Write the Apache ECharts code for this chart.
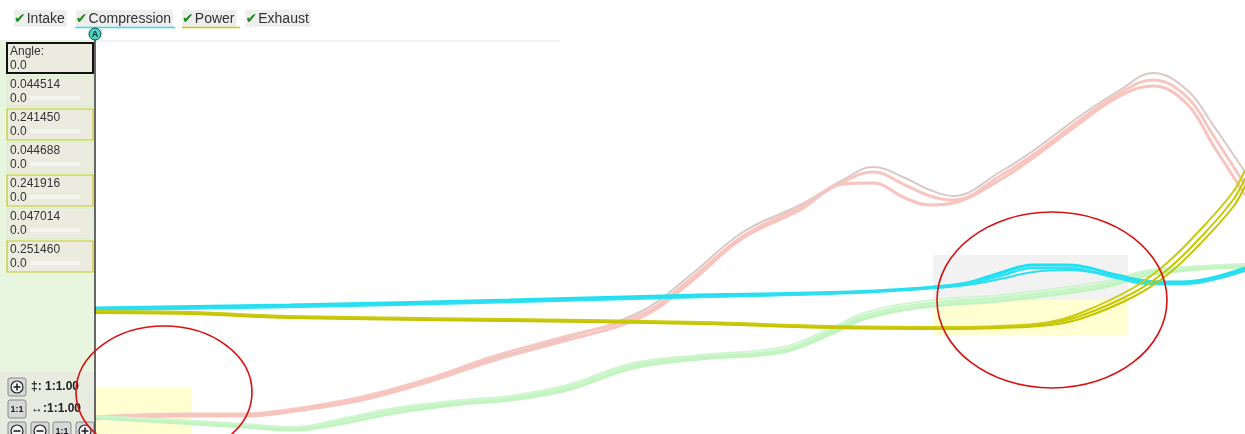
<!DOCTYPE html>
<html><head><meta charset="utf-8">
<script src="https://cdn.jsdelivr.net/npm/echarts@6/dist/echarts.min.js"></script>
<style>html,body{margin:0;padding:0;background:#fff}#c{width:1245px;height:434px}</style>
</head><body><div id="c"></div>
<script>
// ---- data (x = crank angle units, y = signal units) ----
const legendNames = ['Intake', 'Compression', 'Power', 'Exhaust'];
const panelValues = ['0.044514', '0.241450', '0.044688', '0.241916', '0.047014', '0.251460'];
const panelSub = '0.0';
const zoomV = '1:1.00', zoomH = '1:1.00';

const intakeX = [0, 90, 150, 200, 267, 333, 400, 465, 545, 592, 648, 705, 748, 778, 810, 835, 858, 905, 942, 985, 1025, 1058, 1092, 1118, 1150];
const intakeA = [16, 19, 19, 24, 36, 54, 76, 94, 122, 156, 202, 229, 254, 267, 256, 244, 238, 262, 286, 318, 344, 361, 344, 309, 262];
const intakeB = [17, 20, 20, 25, 37, 55, 78, 96, 119, 152, 198, 227, 252, 262, 249, 238, 234, 258, 282, 314, 341, 354, 337, 299, 249];
const intakeC = [15, 18, 18, 23, 34, 52, 74, 92, 116, 149, 196, 224, 250, 251, 236, 229, 231, 254, 279, 311, 338, 348, 330, 289, 239];

const exhaustX = [0, 100, 150, 200, 250, 300, 367, 415, 472, 538, 605, 688, 738, 772, 838, 905, 1005, 1055, 1105, 1150];
const exhaustA = [17, 12, 9, 6, 14, 24, 32, 36, 47, 69, 77, 84, 104, 119, 131, 136, 149, 162, 167, 169];
const exhaustB = [16, 10, 7, 4, 11, 21, 30, 34, 44, 66, 75, 82, 101, 116, 128, 133, 146, 159, 165, 167];
const exhaustC = [18, 13, 10, 7, 16, 26, 34, 38, 49, 71, 79, 87, 107, 122, 134, 139, 152, 164, 168, 170];

const compX = [0, 195, 415, 605, 755, 838, 872, 905, 938, 972, 1022, 1055, 1088, 1150];
const compA = [126, 129, 134, 139, 142, 147, 151, 161, 169, 169, 159, 152, 152, 166];
const compB = [124, 127, 132, 137, 141, 146, 150, 158, 166, 166, 156, 150, 150, 164];
const compC = [125, 128, 133, 138, 142, 146, 149, 155, 162, 164, 158, 153, 151, 163];

const powerX = [0, 95, 195, 415, 605, 738, 855, 905, 955, 988, 1038, 1072, 1105, 1138, 1150];
const powerA = [122, 121, 117, 114, 111, 107, 106, 107, 111, 119, 141, 164, 196, 234, 256];
const powerB = [121, 120, 116, 113, 110, 106, 105, 106, 109, 116, 137, 159, 190, 227, 248];
const powerC = [123, 122, 118, 115, 112, 108, 107, 108, 112, 122, 146, 171, 204, 242, 264];

// highlighted regions [x0, x1, y0, y1]
const hlYellowLeft = [0, 97, 0, 46];
const hlGreyRight = [838, 1033, 134, 179];
const hlYellowRight = [838, 1033, 99, 134];

// ---- chart ----
const FONT = '"Liberation Sans", Arial, sans-serif';
function mk(name, xs, ys, color, width, z) {
  return {
    type: 'line', name: name, data: xs.map((x, i) => [x, ys[i]]),
    smooth: 0.4, showSymbol: false, symbol: 'none',
    lineStyle: { color: color, width: width }, itemStyle: { color: color },
    z: z, silent: true
  };
}
const series = [
  mk('Intake', intakeX, intakeA, '#d8c8c8', 2, 2),
  mk('Intake', intakeX, intakeB, '#f7c6c0', 3, 2),
  mk('Intake', intakeX, intakeC, '#f9c3be', 3, 2),
  mk('Exhaust', exhaustX, exhaustA, '#c6f5c6', 3, 2),
  mk('Exhaust', exhaustX, exhaustB, '#c2f4c0', 3, 2),
  mk('Exhaust', exhaustX, exhaustC, '#d0f5d0', 2, 2),
  mk('Compression', compX, compA, '#1ee0f2', 3, 3),
  mk('Compression', compX, compB, '#28e4f4', 2.5, 3),
  mk('Compression', compX, compC, '#30dcee', 2, 3),
  mk('Power', powerX, powerA, '#c8c800', 2, 4),
  mk('Power', powerX, powerB, '#c4c400', 2, 4),
  mk('Power', powerX, powerC, '#caca10', 2, 4)
];
series[0].markArea = {
  silent: true,
  data: [
    [{ coord: [hlYellowLeft[0], hlYellowLeft[2]], itemStyle: { color: '#ffffd2' } }, { coord: [hlYellowLeft[1], hlYellowLeft[3]] }],
    [{ coord: [hlGreyRight[0], hlGreyRight[2]], itemStyle: { color: '#f2f2f2' } }, { coord: [hlGreyRight[1], hlGreyRight[3]] }],
    [{ coord: [hlYellowRight[0], hlYellowRight[2]], itemStyle: { color: '#ffffd2' } }, { coord: [hlYellowRight[1], hlYellowRight[3]] }]
  ]
};

const graphic = [];
// horizontal top rule
graphic.push({ type: 'line', shape: { x1: 96, y1: 41, x2: 560, y2: 41 }, style: { stroke: '#e6e6e6', lineWidth: 1 }, z: 50 });
// legend underlines
graphic.push({ type: 'line', shape: { x1: 75, y1: 27.5, x2: 175, y2: 27.5 }, style: { stroke: '#30e0f0', lineWidth: 1.5 }, z: 50 });
graphic.push({ type: 'line', shape: { x1: 182, y1: 27.5, x2: 240, y2: 27.5 }, style: { stroke: '#d0c800', lineWidth: 1.5 }, z: 50 });
// "A" marker
graphic.push({ type: 'circle', shape: { cx: 95, cy: 34, r: 6 }, style: { fill: '#48d4c4', stroke: '#0c4848', lineWidth: 1 }, z: 60 });
graphic.push({ type: 'text', style: { text: 'A', x: 95, y: 34.5, align: 'center', verticalAlign: 'middle', font: 'bold 9px ' + FONT, fill: '#103030' }, z: 61 });
// left panel
graphic.push({ type: 'rect', shape: { x: 0, y: 40, width: 94, height: 394 }, style: { fill: '#e8f6e0' }, z: 40 });
graphic.push({ type: 'rect', shape: { x: 7, y: 43, width: 86, height: 30 }, style: { fill: '#ebebe0', stroke: '#111', lineWidth: 2 }, z: 41 });
graphic.push({ type: 'text', style: { text: 'Angle:', x: 10, y: 52, verticalAlign: 'middle', font: '12px ' + FONT, fill: '#333' }, z: 42 });
graphic.push({ type: 'text', style: { text: panelSub, x: 10, y: 66, verticalAlign: 'middle', font: '12px ' + FONT, fill: '#333' }, z: 42 });
panelValues.forEach((v, i) => {
  const y0 = 76 + i * 33;
  const yellow = i % 2 === 1;
  graphic.push({ type: 'rect', shape: { x: 7, y: y0, width: 86, height: 31 }, style: { fill: '#ebebe0', stroke: yellow ? '#c8c820' : '#d6f0cc', lineWidth: 1.2 }, z: 41 });
  graphic.push({ type: 'rect', shape: { x: 30, y: y0 + 20, width: 50, height: 4 }, style: { fill: '#f6f6f0' }, z: 41 });
  graphic.push({ type: 'text', style: { text: v, x: 10, y: y0 + 9, verticalAlign: 'middle', font: '12px ' + FONT, fill: '#333' }, z: 42 });
  graphic.push({ type: 'text', style: { text: panelSub, x: 10, y: y0 + 23, verticalAlign: 'middle', font: '12px ' + FONT, fill: '#333' }, z: 42 });
});
// zoom controls
function btn(x, y, label) {
  graphic.push({ type: 'rect', shape: { x: x, y: y, width: 18, height: 18, r: 2 }, style: { fill: '#d8d8d8', stroke: '#888', lineWidth: 1 }, z: 43 });
  graphic.push({ type: 'text', style: { text: label, x: x + 9, y: y + 9.5, align: 'center', verticalAlign: 'middle', font: 'bold 9px ' + FONT, fill: '#222' }, z: 44 });
}
function circBtn(x, y, minus) {
  graphic.push({ type: 'rect', shape: { x: x, y: y, width: 18, height: 18, r: 2 }, style: { fill: '#d8d8d8', stroke: '#888', lineWidth: 1 }, z: 43 });
  graphic.push({ type: 'circle', shape: { cx: x + 9, cy: y + 9, r: 6 }, style: { fill: '#f4f4f4', stroke: '#222', lineWidth: 1.2 }, z: 44 });
  graphic.push({ type: 'line', shape: { x1: x + 5.5, y1: y + 9, x2: x + 12.5, y2: y + 9 }, style: { stroke: '#222', lineWidth: 1.6 }, z: 45 });
  if (!minus) graphic.push({ type: 'line', shape: { x1: x + 9, y1: y + 5.5, x2: x + 9, y2: y + 12.5 }, style: { stroke: '#222', lineWidth: 1.6 }, z: 45 });
}
graphic.push({ type: 'rect', shape: { x: 0, y: 372, width: 94, height: 62 }, style: { fill: '#e8ece0' }, z: 42 });
circBtn(8, 378, false);
btn(8, 400, '1:1');
circBtn(8, 422, true); circBtn(31, 422, true); btn(53, 422, '1:1'); circBtn(76, 422, false);
graphic.push({ type: 'text', style: { text: '‡: ' + zoomV, x: 31, y: 387, verticalAlign: 'middle', font: 'bold 12px ' + FONT, fill: '#222' }, z: 44 });
graphic.push({ type: 'text', style: { text: '↔:' + zoomH, x: 31, y: 409, verticalAlign: 'middle', font: 'bold 12px ' + FONT, fill: '#222' }, z: 44 });
// axis line over panel
graphic.push({ type: 'line', shape: { x1: 95, y1: 40, x2: 95, y2: 434 }, style: { stroke: '#000', lineWidth: 1.2 }, z: 45 });
// annotation ellipses
graphic.push({ type: 'ellipse', shape: { cx: 164, cy: 392, rx: 88, ry: 66 }, style: { fill: 'none', stroke: '#d41414', lineWidth: 1.6 }, z: 90 });
graphic.push({ type: 'ellipse', shape: { cx: 1052, cy: 300, rx: 115, ry: 88 }, style: { fill: 'none', stroke: '#d41414', lineWidth: 1.6 }, z: 90 });

const chart = echarts.init(document.getElementById('c'), null, { renderer: 'canvas' });
chart.setOption({
  animation: false,
  backgroundColor: '#ffffff',
  grid: { left: 95, right: 0, top: 40, bottom: 0, containLabel: false },
  legend: {
    data: legendNames, left: 9, top: 10, padding: 0, icon: 'none', itemWidth: 0, itemHeight: 0, itemGap: 4,
    formatter: n => '{ck|✔}{t|' + n + '}',
    textStyle: {
      backgroundColor: '#eeeeee', padding: [2, 2, 1, 0],
      rich: {
        ck: { color: '#1c8c1c', fontSize: 14, fontWeight: 'bold', fontFamily: '"DejaVu Sans"', padding: [0, 1, 0, 0] },
        t: { color: '#333', fontSize: 14, fontFamily: FONT }
      }
    }
  },
  xAxis: { type: 'value', min: 0, max: 1150, show: false },
  yAxis: { type: 'value', min: 0, max: 394, axisLine: { show: false }, axisTick: { show: false }, axisLabel: { show: false }, splitLine: { show: false } },
  series: series,
  graphic: graphic
});
</script></body></html>
